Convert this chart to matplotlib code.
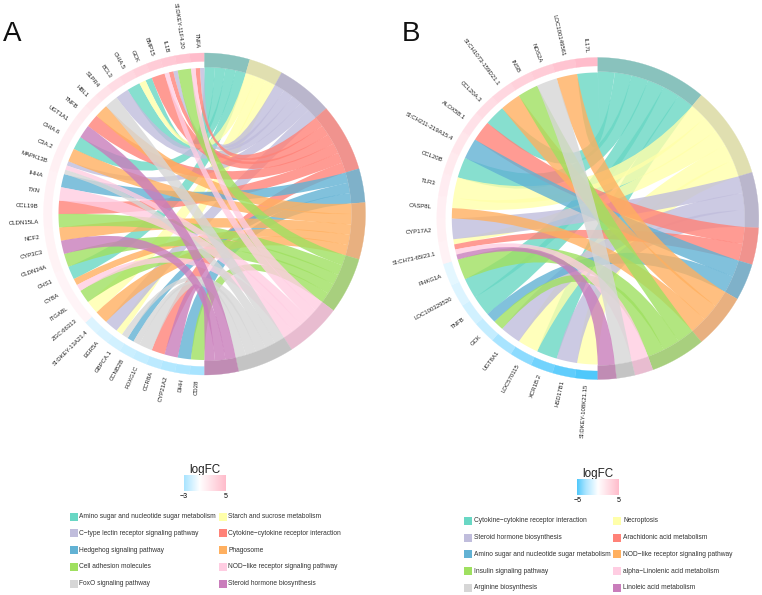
import numpy as np
import matplotlib
matplotlib.use('Agg')
import matplotlib.pyplot as plt
from matplotlib.colors import LinearSegmentedColormap, Normalize
from matplotlib.patches import PathPatch, Polygon, Rectangle
from matplotlib.path import Path

plt.rcParams['font.family'] = ['Liberation Sans', 'DejaVu Sans']

# palette, same order for both panels
fill_cols = ['#69D7C4', '#FFFFAA', '#C0BDDC', '#FF8278', '#62B2D4',
             '#FFB060', '#9FE060', '#FFCDE2', '#D6D6D6', '#C97DBB']
ring_cols = ['#89C2BD', '#E0DFB0', '#BAB6CC', '#F0938E', '#7FB1C9',
             '#E8B080', '#A8CF7E', '#E8BCD0', '#C4C4C4', '#C08CB4']

# panel A, genes run clockwise from the bottom
genes_a = ['CD28', 'DHH', 'CYP21A2', 'CCR8A', 'FOXG1C', 'CCNB2B', 'GBPCA.1', 'EGR5A',
           'SI:DKEY-13A21.4', 'ZGC:66313', 'ITGA8L', 'CYBA', 'CHS1', 'CLDN34A', 'CYP3C3',
           'NCF2', 'CLDN15LA', 'CCL19B', 'TXN', 'IHHA', 'MAPK13B', 'C3A.2', 'CHIA.6',
           'UGT1A1', 'TNFB', 'HBL1', 'S1PR4', 'BCL3', 'CHIA.5', 'GCK', 'BMP15', 'IL1B',
           'SI:DKEY-11F4.20', 'TNFA']
logfc_a = [-3, -2.8, -2.6, -2.3, -2.0, -1.8, -1.6, -1.4, -1.2, 0.8, 0.8, 0.8, 0.8, 0.9, 0.9,
           0.9, 1.0, 1.0, 1.0, 1.0, 1.1, 1.2, 1.2, 1.3, 1.5, 1.8, 2.1, 2.6, 3.0, 3.4, 3.8, 4.0,
           4.4, 5]
links_a = [[6], [4], [9], [3], [8], [8, 4], [8, 1], [2], [5], [1], [6], [7, 5], [0], [6], [9],
           [5], [6], [3], [7], [4], [8, 7, 2], [5], [0], [9], [3], [5], [8], [2], [0], [1, 0],
           [3], [7, 3, 2], [6], [7, 3, 2]]
paths_a = ['Amino sugar and nucleotide sugar metabolism', 'Starch and sucrose metabolism',
           'C\u2212type lectin receptor signaling pathway', 'Cytokine\u2212cytokine receptor interaction',
           'Hedgehog signaling pathway', 'Phagosome', 'Cell adhesion molecules',
           'NOD\u2212like receptor signaling pathway', 'FoxO signaling pathway',
           'Steroid hormone biosynthesis']

# panel B
genes_b = ['SI:DKEY-108K21.15', 'HSD17B1', 'XCR1B.2', 'LOC570115', 'UGT8A1', 'GCK', 'TNFB',
           'LOC100329520', 'PHKG1A', 'SI:CH73-65I23.1', 'CYP17A2', 'CASP8L', 'TLR3', 'CCL20B',
           'SI:CH211-219A15.4', 'ALOX5B.1', 'CCL20A.3', 'SI:CH1073-159D21.1', 'INSB', 'NOS2A',
           'LOC100149561', 'IL17L']
logfc_b = [-5, -4.6, -4.2, -3.6, -3.0, -2.0, -1.6, -1.2, -0.9, 1.0, 1.1, 1.2, 1.4, 1.6, 1.9,
           2.2, 2.6, 3.0, 3.4, 3.8, 4.4, 5]
links_b = [[1], [2], [0], [1], [2], [6, 4], [0], [0], [6], [9, 7, 3, 1], [2], [5, 1], [1], [0],
           [4], [3], [0], [5], [6], [8], [5], [0]]
paths_b = ['Cytokine\u2212cytokine receptor interaction', 'Necroptosis',
           'Steroid hormone biosynthesis', 'Arachidonic acid metabolism',
           'Amino sugar and nucleotide sugar metabolism', 'NOD\u2212like receptor signaling pathway',
           'Insulin signaling pathway', 'alpha\u2212Linolenic acid metabolism',
           'Arginine biosynthesis', 'Linoleic acid metabolism']

cmap = LinearSegmentedColormap.from_list(
    'fc', [(0, '#4FC8FB'), (0.2, '#A8E4FF'), (0.5, '#FFFFFF'), (1, '#FFBCCB')])
norm = Normalize(-5, 5)

R_OUT, R_GENE, R_PATH, R_RIB = 161, 152.5, 147, 146
W, H = 762, 595


def polar(cx, cy, r, deg):
    t = np.radians(deg)
    return cx + r * np.sin(t), cy - r * np.cos(t)


def ring_seg(ax, cx, cy, r0, r1, a0, a1, col):
    t = np.linspace(a0, a1, 30)
    xo, yo = polar(cx, cy, r1, t)
    xi, yi = polar(cx, cy, r0, t[::-1])
    pts = np.r_[np.c_[xo, yo], np.c_[xi, yi]]
    ax.add_patch(Polygon(pts, closed=True, fc=col, ec=col, lw=0.2, zorder=3))


def ribbon(ax, cx, cy, g0, g1, p0, p1, col):
    # arc on the gene side, bezier past the centre, arc on the pathway side, back.
    # the two beziers get their own control point so the band pinches less
    tg = np.linspace(g0, g1, 12)
    tp = np.linspace(p0, p1, 12)
    gx, gy = polar(cx, cy, R_RIB, tg)
    px, py = polar(cx, cy, R_PATH, tp)
    m1 = np.array([gx[-1] + px[0], gy[-1] + py[0]]) / 2
    m2 = np.array([gx[0] + px[-1], gy[0] + py[-1]]) / 2
    u = (m1 - m2) / np.hypot(*(m1 - m2))
    wid = np.radians(abs(g1 - g0)) * R_RIB / 2 + np.radians(abs(p1 - p0)) * R_PATH / 2
    c1 = (cx + u[0] * wid * 0.3, cy + u[1] * wid * 0.3)
    c2 = (cx - u[0] * wid * 0.3, cy - u[1] * wid * 0.3)
    verts = list(zip(gx, gy))
    codes = [Path.MOVETO] + [Path.LINETO] * 11
    verts += [c1, (px[0], py[0])]
    codes += [Path.CURVE3, Path.CURVE3]
    verts += list(zip(px[1:], py[1:]))
    codes += [Path.LINETO] * 11
    verts += [c2, (gx[0], gy[0])]
    codes += [Path.CURVE3, Path.CURVE3]
    ax.add_patch(PathPatch(Path(verts, codes), fc=col, ec='none', alpha=0.8, zorder=2))


def chord(ax, cx, cy, genes, logfc, links):
    step_g = 180 / len(genes)
    n_links = sum(len(l) for l in links)
    step_p = 180 / n_links
    # gene slots
    ends = {}
    for i, (name, fc, lk) in enumerate(zip(genes, logfc, links)):
        a0 = 180 + i * step_g
        ring_seg(ax, cx, cy, R_GENE, R_OUT, a0, a0 + step_g, cmap(norm(fc)))
        mid = a0 + step_g / 2
        x, y = polar(cx, cy, R_OUT + 5, mid)
        ax.text(x, y, name, rotation=270 - mid, rotation_mode='anchor', ha='right', va='center',
                fontsize=4.3, color='#222222')
        for j, p in enumerate(lk):
            w = step_g / len(lk)
            ends.setdefault(p, []).append((a0 + j * w, a0 + (j + 1) * w))
    # pathway side, last gene goes first so the ribbons of a pathway do not cross
    pos = 0
    for p in range(len(fill_cols)):
        slots = sorted(ends[p], reverse=True)
        ring_seg(ax, cx, cy, R_PATH, R_OUT, pos * step_p, (pos + len(slots)) * step_p, ring_cols[p])
        for k, (g0, g1) in enumerate(slots):
            a = (pos + k) * step_p
            ribbon(ax, cx, cy, g0, g1, a, a + step_p, fill_cols[p])
        pos += len(slots)


def legend(ax, names, x1, x2, y0):
    for i, name in enumerate(names):
        x = x2 if i % 2 else x1
        y = y0 + (i // 2) * 16.7
        ax.add_patch(Rectangle((x, y - 4), 8, 8, fc=fill_cols[i], ec='none'))
        ax.text(x + 9.8, y, name, fontsize=4.8, va='center', ha='left', color='#333333')


def colourbar(fig, ax, x0, x1, y0, y1, low, high):
    cax = fig.add_axes([x0 / W, 1 - y1 / H, (x1 - x0) / W, (y1 - y0) / H])
    grad = np.linspace(low, high, 256)[None, :]
    cax.imshow(grad, cmap=cmap, norm=norm, aspect='auto', extent=[low, high, 0, 1])
    cax.set_yticks([])
    cax.set_xticks([low, high])
    cax.tick_params(axis='x', length=0, labelsize=5, pad=1.5, color='#333333')
    for s in cax.spines.values():
        s.set_visible(False)
    ax.text((x0 + x1) / 2, y0 - 5.5, 'logFC', fontsize=8.4, ha='center', va='center', color='#222222')


fig = plt.figure(figsize=(W / 100, H / 100), dpi=100)
ax = fig.add_axes([0, 0, 1, 1])
ax.set_xlim(0, W)
ax.set_ylim(H, 0)
ax.axis('off')

chord(ax, 204.5, 214, genes_a, logfc_a, links_a)
chord(ax, 597.8, 218.5, genes_b, logfc_b, links_b)

ax.text(3, 41, 'A', fontsize=20, ha='left', va='baseline', color='#111111')
ax.text(402, 41, 'B', fontsize=20, ha='left', va='baseline', color='#111111')

legend(ax, paths_a, 69.5, 218.5, 516.7)
legend(ax, paths_b, 464.3, 613.3, 521)
colourbar(fig, ax, 184, 225.7, 475, 490.7, -3, 5)
colourbar(fig, ax, 577.3, 619, 479.3, 495.3, -5, 5)

fig.savefig('out.png', dpi=100)
